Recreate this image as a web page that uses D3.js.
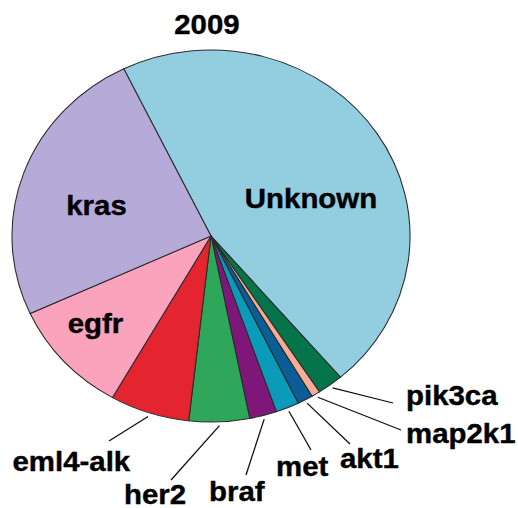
<!DOCTYPE html>
<html lang="en">
<head>
    <title>2009</title>
    <script src="https://d3js.org/d3.v7.min.js"></script>
    <style>
        body {
            margin: 0;
            background: #fff;
        }

        text {
            font-family: "Liberation Sans", Arial, sans-serif;
            font-weight: bold;
            font-size: 27.5px;
            fill: #000;
            stroke: #000;
            stroke-width: 0.4px;
        }

        path.slice {
            stroke: #2b2b2b;
            stroke-width: 1px;
        }

        line.leader {
            stroke: #111;
            stroke-width: 1.2px;
        }
    </style>
</head>
<body>
<svg id="chart" width="518" height="508"></svg>
<script type="text/javascript">
    // slices, clockwise from the top-left edge of "Unknown"
    const genes = ['Unknown', 'pik3ca', 'map2k1', 'akt1', 'met', 'braf', 'her2', 'eml4-alk', 'egfr', 'kras'];
    const shares = [45.9, 2.1, 0.7, 1.25, 1.9, 2.2, 4.9, 6.45, 9.9, 24.6];
    const colors = ['#93cde0', '#05744a', '#f7ad95', '#0b5e95', '#0a9aba', '#7f177a', '#2fa75b', '#e4252f', '#fba3bc', '#b6aad9'];
    const title = '2009';

    // layout (picture pixels); labels are placed by hand like the original
    const sx = 1.07;           // the original picture is stretched sideways
    const cx = 211, cy = 236, ry = 186;
    const labelPos = {
        'Unknown': {x: 311, y: 208, anchor: 'middle', inside: true},
        'kras': {x: 96.5, y: 215, anchor: 'middle', inside: true},
        'egfr': {x: 95.5, y: 333, anchor: 'middle', inside: true},
        'pik3ca': {x: 406, y: 405, anchor: 'start', lx: 393, ly: 403},
        'map2k1': {x: 406, y: 443, anchor: 'start', lx: 401, ly: 430},
        'akt1': {x: 340, y: 468, anchor: 'start', lx: 350, ly: 444},
        'met': {x: 276, y: 476, anchor: 'start', lx: 311, ly: 450},
        'braf': {x: 209, y: 501, anchor: 'start', lx: 246, ly: 475},
        'her2': {x: 124, y: 504, anchor: 'start', lx: 171, ly: 480},
        'eml4-alk': {x: 12.5, y: 471, anchor: 'start', lx: 109, ly: 441}
    };

    const svg = d3.select('#chart');
    const g = svg.append('g').attr('transform', 'scale(' + sx + ',1)');

    g.append('text')
        .attr('x', 207 / sx)
        .attr('y', 34)
        .attr('text-anchor', 'middle')
        .text(title);

    const data = genes.map((name, i) => ({name: name, value: shares[i], color: colors[i]}));

    const pie = d3.pie()
        .sort(null)
        .value(d => d.value)
        .startAngle(-26 * Math.PI / 180)
        .endAngle((360 - 26) * Math.PI / 180);

    const arc = d3.arc().innerRadius(0).outerRadius(ry);
    const rimArc = d3.arc().innerRadius(ry * 1.02).outerRadius(ry * 1.02);

    const arcs = pie(data);
    const pieG = g.append('g').attr('transform', 'translate(' + (cx / sx) + ',' + cy + ')');

    pieG.selectAll('path')
        .data(arcs)
        .join('path')
        .attr('class', 'slice')
        .attr('d', arc)
        .attr('fill', d => d.data.color);

    // leader lines from the rim to the outside labels
    const outside = arcs.filter(d => !labelPos[d.data.name].inside);
    pieG.selectAll('line.leader')
        .data(outside)
        .join('line')
        .attr('class', 'leader')
        .attr('x1', d => rimArc.centroid(d)[0])
        .attr('y1', d => rimArc.centroid(d)[1])
        .attr('x2', d => (labelPos[d.data.name].lx - cx) / sx)
        .attr('y2', d => labelPos[d.data.name].ly - cy);

    g.selectAll('text.label')
        .data(arcs)
        .join('text')
        .attr('class', 'label')
        .attr('text-anchor', d => labelPos[d.data.name].anchor)
        .attr('x', d => labelPos[d.data.name].x / sx)
        .attr('y', d => labelPos[d.data.name].y)
        .text(d => d.data.name);
</script>
</body>
</html>
